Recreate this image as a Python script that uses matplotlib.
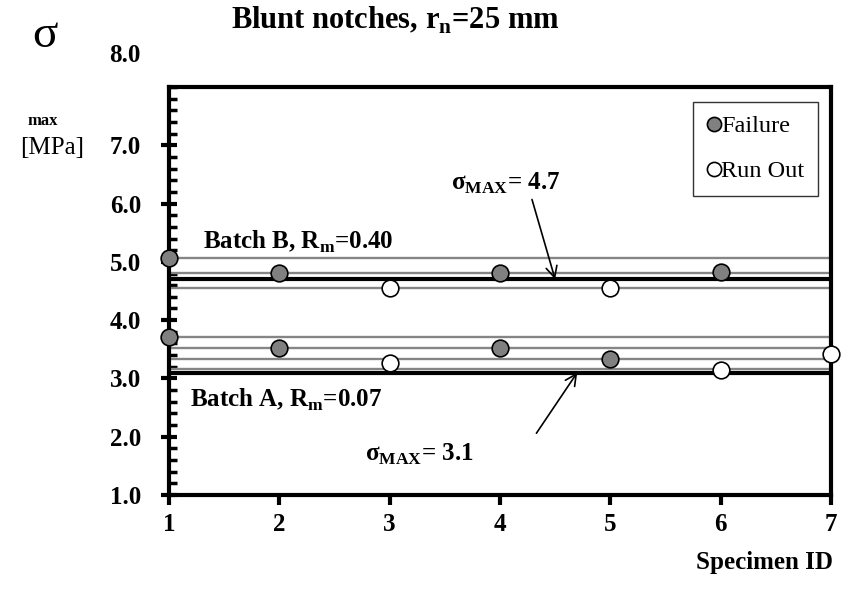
import matplotlib
matplotlib.use("Agg")
import matplotlib.pyplot as plt
from matplotlib.ticker import MultipleLocator

# ---- data ----
fail_x = [1, 2, 4, 6, 1, 2, 4, 5]
fail_y = [5.06, 4.81, 4.81, 4.83, 3.71, 3.53, 3.53, 3.33]
run_x = [3, 5, 3, 6, 7]
run_y = [4.56, 4.56, 3.27, 3.14, 3.42]
grey_levels = [5.06, 4.81, 4.56, 3.71, 3.53, 3.34, 3.17]
sigma_max = [4.7, 3.1]
xticks = [1, 2, 3, 4, 5, 6, 7]
yticks = [1.0, 2.0, 3.0, 4.0, 5.0, 6.0, 7.0]

serif = ["Liberation Serif", "DejaVu Serif"]
plt.rcParams["font.family"] = serif
plt.rcParams["mathtext.fontset"] = "custom"
plt.rcParams["mathtext.rm"] = "Liberation Serif"
plt.rcParams["mathtext.bf"] = "Liberation Serif:bold"

fig = plt.figure(figsize=(8.52, 5.89), dpi=100)
ax = fig.add_axes([169/852, 1-495/589, (831-169)/852, (495-87)/589])

for lv in grey_levels:
    ax.axhline(lv, color="#858585", lw=1.7, zorder=2)
for lv in sigma_max:
    ax.axhline(lv, color="black", lw=3.0, zorder=3)

ax.plot(fail_x, fail_y, "o", ms=12, mfc="#808080", mec="black", mew=1.2,
        ls="none", zorder=5, clip_on=False, label="Failure")
ax.plot(run_x, run_y, "o", ms=12, mfc="white", mec="black", mew=1.2,
        ls="none", zorder=5, clip_on=False, label="Run Out")

ax.set_xlim(1, 7)
ax.set_ylim(1.0, 8.0)
ax.set_xticks(xticks)
ax.set_xticklabels([str(v) for v in xticks], fontsize=18, fontweight="bold")
ax.set_yticks(yticks)
ax.set_yticklabels([f"{v:.1f}" for v in yticks], fontsize=18, fontweight="bold")
ax.yaxis.set_minor_locator(MultipleLocator(0.2))
ax.tick_params(axis="y", which="major", direction="inout", length=12, width=3, pad=14)
ax.tick_params(axis="y", which="minor", direction="in", length=6, width=2.5)
ax.tick_params(axis="x", which="major", direction="out", length=7, width=3, pad=6)
for s in ax.spines.values():
    s.set_linewidth(3)

# "8.0" label sits above the axis top
fig.text(140/852, 1-55/589, "8.0", ha="right", va="center", fontsize=18,
         fontweight="bold")

# title
fig.text(395/852, 1-20/589, r"Blunt notches, r$_\mathbf{n}$=25 mm", ha="center",
         va="center", fontsize=22, fontweight="bold")

# y axis label pieces
fig.text(45/852, 1-36/589, "σ", ha="center", va="center", fontsize=34)
fig.text(43/852, 1-121/589, "max", ha="center", va="center", fontsize=12,
         fontweight="bold")
fig.text(52/852, 1-148/589, "[MPa]", ha="center", va="center", fontsize=18)

# x label
fig.text(833/852, 1-562/589, "Specimen ID", ha="right", va="center",
         fontsize=18, fontweight="bold")

# annotations
ax.text(1.31, 5.35, r"Batch B, R$_\mathbf{m}$=0.40", fontsize=18, fontweight="bold",
        va="center")
ax.text(1.19, 2.63, r"Batch A, R$_\mathbf{m}$=0.07", fontsize=18, fontweight="bold",
        va="center")
ax.text(4.05, 6.35, r"σ$_\mathbf{MAX}$= 4.7", fontsize=18, fontweight="bold",
        ha="center", va="center")
ax.text(3.27, 1.69, r"σ$_\mathbf{MAX}$= 3.1", fontsize=18, fontweight="bold",
        ha="center", va="center")
arrow = dict(arrowstyle="->", color="black", lw=1.2, mutation_scale=20,
             shrinkA=0, shrinkB=0)
ax.annotate("", xy=(4.50, 4.7), xytext=(4.29, 6.07), arrowprops=arrow)
ax.annotate("", xy=(4.70, 3.1), xytext=(4.33, 2.06), arrowprops=arrow)

leg = ax.legend(loc="upper right", bbox_to_anchor=((818-169)/662, (495-102)/408),
                frameon=True, fancybox=False, edgecolor="black", fontsize=17.5,
                handletextpad=0.0, handlelength=0.6, borderpad=0.55,
                borderaxespad=0.0, labelspacing=0.95, markerscale=0.85)
leg.get_frame().set_linewidth(1.0)

fig.savefig("out.png", dpi=100)
